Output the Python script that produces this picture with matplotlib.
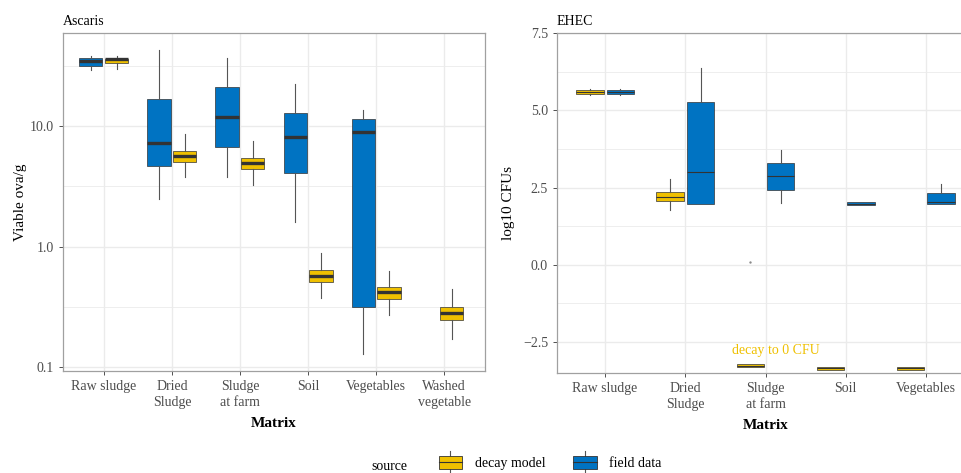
import matplotlib
matplotlib.use('Agg')
import matplotlib.pyplot as plt
from matplotlib.patches import Rectangle
from matplotlib.lines import Line2D
from matplotlib.legend_handler import HandlerBase
from matplotlib.ticker import FixedLocator, NullFormatter

plt.rcParams['font.family'] = ['Liberation Serif', 'DejaVu Serif']

YELLOW = '#EFC000'
BLUE = '#0073C2'
EDGE = '#333333'
GRID = '#EBEBEB'
TICK_TXT = '#4D4D4D'

# Ascaris: viable ova per gram, box statistics per matrix
asc_matrix = ['Raw sludge', 'Dried\nSludge', 'Sludge\nat farm', 'Soil',
              'Vegetables', 'Washed\nvegetable']
asc_field_lo = [29.0, 2.48, 3.80, 1.61, 0.128, None]
asc_field_q1 = [31.7, 4.66, 6.70, 4.09, 0.317, None]
asc_field_med = [34.4, 7.23, 11.8, 8.11, 8.97, None]
asc_field_q3 = [36.6, 16.8, 20.9, 12.9, 11.5, None]
asc_field_hi = [38.1, 42.5, 36.9, 22.3, 13.6, None]

asc_decay_lo = [29.6, 3.78, 3.22, 0.374, 0.269, 0.172]
asc_decay_q1 = [33.1, 5.00, 4.37, 0.511, 0.369, 0.245]
asc_decay_med = [35.7, 5.64, 4.90, 0.573, 0.419, 0.279]
asc_decay_q3 = [35.7, 6.24, 5.46, 0.635, 0.458, 0.315]
asc_decay_hi = [38.1, 8.58, 7.47, 0.879, 0.630, 0.443]

# EHEC: log10 CFUs
ehec_matrix = ['Raw sludge', 'Dried\nSludge', 'Sludge\nat farm', 'Soil', 'Vegetables']
ehec_field_lo = [5.49, 1.98, 2.00, 1.92, 1.98]
ehec_field_q1 = [5.53, 1.98, 2.41, 1.92, 1.98]
ehec_field_med = [5.59, 3.00, 2.87, 1.97, 2.02]
ehec_field_q3 = [5.66, 5.26, 3.30, 2.02, 2.31]
ehec_field_hi = [5.69, 6.36, 3.71, 2.02, 2.60]

ehec_decay_lo = [5.49, 1.78, -3.30, -3.39, -3.39]
ehec_decay_q1 = [5.53, 2.07, -3.30, -3.39, -3.39]
ehec_decay_med = [5.59, 2.20, -3.26, -3.35, -3.35]
ehec_decay_q3 = [5.66, 2.37, -3.21, -3.30, -3.30]
ehec_decay_hi = [5.69, 2.77, -3.21, -3.30, -3.30]
ehec_decay_fliers = [[], [], [0.1], [], []]


def draw_boxes(ax, centers, lo, q1, med, q3, hi, color, med_lw, width,
               fliers=None):
    stats, pos = [], []
    for i, c in enumerate(centers):
        if med[i] is None:
            continue
        stats.append(dict(whislo=lo[i], q1=q1[i], med=med[i], q3=q3[i],
                          whishi=hi[i],
                          fliers=fliers[i] if fliers else []))
        pos.append(c)
    ax.bxp(stats, positions=pos, widths=width, patch_artist=True,
           showcaps=False, showfliers=True, manage_ticks=False,
           boxprops=dict(facecolor=color, edgecolor=EDGE, linewidth=0.5),
           medianprops=dict(color=EDGE, linewidth=med_lw,
                            solid_capstyle='butt'),
           whiskerprops=dict(color='#555555', linewidth=0.8),
           flierprops=dict(marker='o', markersize=0.7,
                           markerfacecolor='#888888',
                           markeredgecolor='#888888'),
           zorder=3)


def style_axes(ax):
    for s in ax.spines.values():
        s.set_color('#A0A0A0')
        s.set_linewidth(0.9)
    ax.grid(True, which='major', color=GRID, linewidth=1.0, zorder=0)
    ax.grid(True, which='minor', axis='y', color=GRID, linewidth=0.6, zorder=0)
    ax.set_axisbelow(True)
    ax.tick_params(axis='both', which='major', length=3, width=0.6,
                   color='#333333', labelcolor=TICK_TXT, labelsize=10)
    ax.tick_params(axis='both', which='minor', length=0)
    for lab in ax.get_xticklabels():
        lab.set_linespacing(1.25)
    ax.set_xlabel('Matrix', fontsize=11, fontweight='bold', labelpad=6)


fig = plt.figure(figsize=(9.61, 4.73), dpi=100)
W, H = 961.0, 473.0

# left panel: Ascaris on log axis
ax1 = fig.add_axes([63 / W, 1 - 371 / H, (485 - 63) / W, (371 - 33) / H])
x1 = list(range(1, len(asc_matrix) + 1))
draw_boxes(ax1, [x - 0.19 for x in x1], asc_field_lo, asc_field_q1,
           asc_field_med, asc_field_q3, asc_field_hi, BLUE, 2.4, 0.34)
decay_x = [x + 0.19 for x in x1[:-1]] + [x1[-1] + 0.11]
draw_boxes(ax1, decay_x, asc_decay_lo, asc_decay_q1, asc_decay_med,
           asc_decay_q3, asc_decay_hi, YELLOW, 2.4, 0.34)
ax1.set_yscale('log')
ax1.set_ylim(0.0927, 59.2)
ax1.set_xlim(0.4, len(asc_matrix) + 0.6)
ax1.yaxis.set_major_locator(FixedLocator([0.1, 1.0, 10.0]))
ax1.yaxis.set_minor_locator(FixedLocator([0.316, 3.16, 31.6]))
ax1.yaxis.set_minor_formatter(NullFormatter())
ax1.set_yticklabels(['0.1', '1.0', '10.0'])
ax1.set_xticks(x1)
ax1.set_xticklabels(asc_matrix)
ax1.set_ylabel('Viable ova/g', fontsize=11, labelpad=2)
ax1.set_title('Ascaris', loc='left', fontsize=10, pad=6)
style_axes(ax1)

# right panel: EHEC on linear axis, runs past the right edge
ax2 = fig.add_axes([557 / W, 1 - 373 / H, (974 - 557) / W, (373 - 33) / H])
x2 = list(range(1, len(ehec_matrix) + 1))
draw_boxes(ax2, [x - 0.19 for x in x2], ehec_decay_lo, ehec_decay_q1,
           ehec_decay_med, ehec_decay_q3, ehec_decay_hi, YELLOW, 0.8, 0.34,
           fliers=ehec_decay_fliers)
draw_boxes(ax2, [x + 0.19 for x in x2], ehec_field_lo, ehec_field_q1,
           ehec_field_med, ehec_field_q3, ehec_field_hi, BLUE, 0.8, 0.34)
ax2.set_ylim(-3.5, 7.5)
ax2.set_xlim(0.4, len(ehec_matrix) + 0.6)
ax2.set_yticks([-2.5, 0.0, 2.5, 5.0, 7.5])
ax2.set_yticklabels(['\u22122.5', '0.0', '2.5', '5.0', '7.5'])
ax2.yaxis.set_minor_locator(FixedLocator([-1.25, 1.25, 3.75, 6.25]))
ax2.set_xticks(x2)
ax2.set_xticklabels(ehec_matrix)
ax2.set_ylabel('log10 CFUs', fontsize=11, labelpad=6)
ax2.set_title('EHEC', loc='left', fontsize=10, pad=6)
ax2.text(3.13, -2.78, 'decay to 0 CFU', color=YELLOW, fontsize=10,
         ha='center', va='center')
style_axes(ax2)


class BoxKey(HandlerBase):
    def create_artists(self, legend, orig_handle, xdescent, ydescent,
                       width, height, fontsize, trans):
        color = orig_handle.get_facecolor()
        rect = Rectangle((-xdescent, -ydescent), width, height,
                         facecolor=color, edgecolor=EDGE, linewidth=0.6,
                         transform=trans)
        mid = -ydescent + height / 2
        med = Line2D([-xdescent, -xdescent + width], [mid, mid],
                     color=EDGE, linewidth=0.8, transform=trans)
        cx = -xdescent + width / 2
        top = Line2D([cx, cx], [-ydescent + height, -ydescent + height * 1.35],
                     color='#555555', linewidth=0.8, transform=trans)
        bot = Line2D([cx, cx], [-ydescent, -ydescent - height * 0.2],
                     color='#555555', linewidth=0.8, transform=trans)
        return [top, bot, rect, med]


h_decay = Rectangle((0, 0), 1, 1, facecolor=YELLOW)
h_field = Rectangle((0, 0), 1, 1, facecolor=BLUE)
fig.legend([h_decay, h_field], ['decay model', 'field data'],
           handler_map={Rectangle: BoxKey()}, loc='center',
           bbox_to_anchor=(550 / W, 1 - 463 / H), ncol=2, frameon=False,
           fontsize=10, handlelength=1.7, handleheight=1.1,
           handletextpad=0.9, columnspacing=2.0)
fig.text(389 / W, 1 - 466 / H, 'source', fontsize=10, ha='center',
         va='center')

fig.savefig('out.png', dpi=100)
